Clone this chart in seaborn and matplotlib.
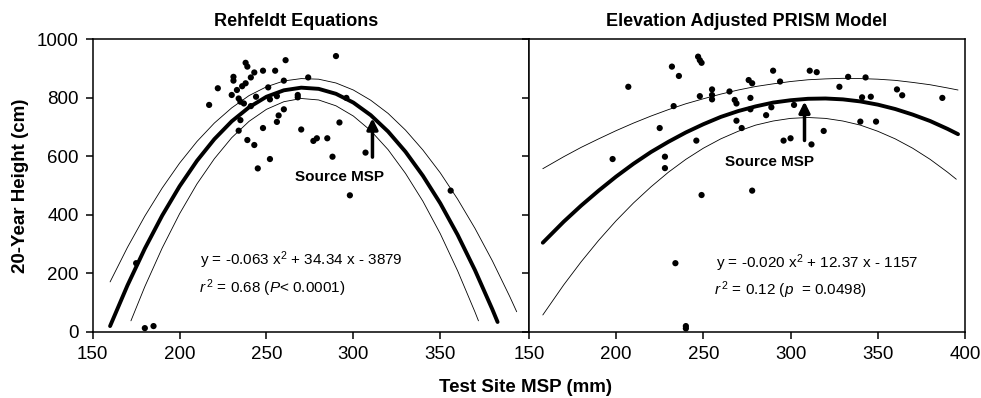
import numpy as np
import pandas as pd
import matplotlib
matplotlib.use('Agg')
import matplotlib.pyplot as plt
import seaborn as sns

# scatter points (MSP in mm, height in cm)
rehf_msp = [217, 222, 230, 231, 231, 233, 234, 235, 235, 234, 236, 238, 237, 238, 239, 239,
            241, 241, 243, 243, 244, 245, 248, 248, 251, 252, 252, 255, 256, 256, 257, 260,
            260, 261, 268, 268, 270, 274, 277, 279, 285, 288, 290, 292, 296, 298, 307, 356,
            175, 180, 185]
rehf_height = [776, 833, 810, 872, 859, 827, 798, 787, 724, 688, 840, 850, 781, 920, 907, 656,
               870, 772, 887, 639, 804, 559, 893, 697, 836, 795, 591, 893, 806, 718, 740, 761,
               859, 929, 802, 810, 692, 870, 653, 662, 662, 599, 943, 716, 800, 467, 613, 483,
               235, 13, 20]

prism_msp = [198, 207, 225, 228, 228, 232, 233, 234, 236, 240, 240, 246, 247, 248, 249, 248,
             249, 255, 255, 255, 265, 268, 269, 269, 272, 276, 278, 277, 277, 278, 286, 289,
             290, 294, 296, 300, 302, 311, 315, 312, 319, 328, 333, 340, 349, 341, 346, 343,
             361, 364, 387]
prism_height = [591, 838, 697, 599, 560, 907, 772, 235, 875, 20, 12, 654, 941, 929, 920, 806,
                468, 829, 810, 795, 822, 793, 781, 722, 697, 861, 850, 800, 761, 483, 741, 768,
                893, 856, 654, 662, 776, 893, 888, 641, 687, 838, 872, 719, 719, 802, 804, 870,
                829, 809, 800]

# fitted curves and 95% bands
rehf_fit_x = [160, 170, 180, 190, 200, 210, 220, 230, 240, 250, 260, 270, 280, 290, 300, 310,
              320, 330, 340, 350, 360, 370, 380, 383]
rehf_fit_y = [20, 159, 285, 398, 498, 585, 659, 720, 768, 804, 826, 835, 831, 814, 784, 741,
              685, 616, 534, 440, 332, 211, 77, 34]
rehf_up_x = [160, 170, 180, 190, 200, 210, 220, 230, 240, 250, 260, 270, 280, 290, 300, 310,
             320, 330, 340, 350, 360, 370, 380, 390, 394]
rehf_up_y = [171, 289, 396, 492, 577, 651, 714, 766, 808, 838, 858, 866, 864, 851, 827, 792,
             747, 690, 622, 544, 454, 354, 243, 121, 69]
rehf_lo_x = [172, 180, 190, 200, 210, 220, 230, 240, 250, 260, 270, 280, 290, 300, 310, 320,
             330, 340, 350, 360, 370, 372]
rehf_lo_y = [38, 155, 287, 404, 506, 592, 664, 720, 761, 787, 798, 793, 773, 738, 688, 623,
             542, 447, 336, 209, 68, 38]

prism_fit_x = [158, 170, 180, 190, 200, 210, 220, 230, 240, 250, 260, 270, 280, 290, 300, 310,
               320, 330, 340, 350, 360, 370, 380, 390, 396]
prism_fit_y = [305, 377, 432, 483, 531, 575, 615, 650, 682, 710, 735, 755, 771, 784, 792, 797,
               798, 795, 788, 777, 762, 743, 721, 694, 676]
prism_up_y = [558, 599, 631, 660, 688, 714, 738, 760, 780, 797, 813, 827, 839, 848, 856, 862,
              865, 867, 866, 864, 860, 853, 845, 834, 827]
prism_lo_x = [158, 170, 180, 190, 200, 210, 220, 230, 240, 250, 260, 270, 280, 290, 300, 310,
              320, 330, 340, 350, 360, 370, 380, 390, 395]
prism_lo_y = [58, 161, 240, 313, 380, 441, 496, 546, 590, 628, 660, 686, 707, 721, 730, 733,
              730, 721, 707, 686, 660, 628, 590, 546, 522]

panel_titles = ['Rehfeldt Equations', 'Elevation Adjusted PRISM Model']
eq_text = [r'y = -0.063 x$^2$ + 34.34 x - 3879', r'y = -0.020 x$^2$ + 12.37 x - 1157']
r2_text = [r'$\it{r}^{\,2}$ = 0.68 ($\it{P}$< 0.0001)', r'$\it{r}^{\,2}$ = 0.12 ($\it{p}$  = 0.0498)']

sns.set_theme(style='ticks')
plt.rcParams['font.family'] = ['Liberation Sans', 'DejaVu Sans']
plt.rcParams['mathtext.fontset'] = 'custom'
plt.rcParams['mathtext.rm'] = 'Liberation Sans'
plt.rcParams['mathtext.it'] = 'Liberation Sans:italic'
plt.rcParams['text.color'] = 'black'
plt.rcParams['axes.labelcolor'] = 'black'
plt.rcParams['axes.titlecolor'] = 'black'
plt.rcParams['axes.linewidth'] = 1.1
plt.rcParams['xtick.major.width'] = 1.1
plt.rcParams['ytick.major.width'] = 1.1
plt.rcParams['xtick.major.size'] = 5
plt.rcParams['ytick.major.size'] = 5

fig, (ax1, ax2) = plt.subplots(1, 2, sharey=True, figsize=(9.81, 3.98), dpi=100)
fig.subplots_adjust(left=0.0945, right=0.9837, bottom=0.166, top=0.901, wspace=0)

panels = [
    (ax1, rehf_msp, rehf_height, rehf_fit_x, rehf_fit_y, rehf_up_x, rehf_up_y, rehf_lo_x, rehf_lo_y),
    (ax2, prism_msp, prism_height, prism_fit_x, prism_fit_y, prism_fit_x, prism_up_y, prism_lo_x, prism_lo_y),
]
for ax, sx, sy, fx, fy, ux, uy, lx, ly in panels:
    sns.lineplot(x=ux, y=uy, ax=ax, color='black', lw=0.6)
    sns.lineplot(x=lx, y=ly, ax=ax, color='black', lw=0.6)
    sns.lineplot(x=fx, y=fy, ax=ax, color='black', lw=2.8)
    sns.scatterplot(x=sx, y=sy, ax=ax, color='black', s=20, edgecolor='none', clip_on=False, zorder=3)
    for side in ['top', 'right', 'left', 'bottom']:
        ax.spines[side].set_visible(True)
        ax.spines[side].set_color('black')

ax1.set_xlim(150, 401)
ax1.set_xticks([150, 200, 250, 300, 350])
ax2.set_xlim(150, 400)
ax2.set_xticks([150, 200, 250, 300, 350, 400])
ax1.set_ylim(0, 1000)
ax1.set_yticks([0, 200, 400, 600, 800, 1000])

for ax in (ax1, ax2):
    ax.tick_params(axis='both', direction='out', labelsize=13.5, colors='black', pad=5)
ax2.tick_params(axis='y', left=True, labelleft=False)

ax1.set_title(panel_titles[0], fontsize=13, fontweight='bold', x=0.466, pad=10)
ax2.set_title(panel_titles[1], fontsize=13, fontweight='bold', pad=10)
ax1.set_ylabel('20-Year Height (cm)', fontsize=13.5, fontweight='bold', labelpad=6)
ax2.set_ylabel('')
fig.text(0.536, 0.027, 'Test Site MSP (mm)', fontsize=13.5, fontweight='bold', ha='center', va='center')

# source MSP arrows
ax1.annotate('', xy=(311, 740), xytext=(311, 588),
             arrowprops=dict(arrowstyle='-|>', lw=2.5, color='black', mutation_scale=16))
ax1.text(292, 531, 'Source MSP', ha='center', va='center', fontsize=11, fontweight='bold')
ax2.annotate('', xy=(308, 797), xytext=(308, 645),
             arrowprops=dict(arrowstyle='-|>', lw=2.5, color='black', mutation_scale=16))
ax2.text(288, 582, 'Source MSP', ha='center', va='center', fontsize=11, fontweight='bold')

ax1.text(212, 246, eq_text[0], ha='left', va='center', fontsize=11)
ax1.text(211, 149, r2_text[0], ha='left', va='center', fontsize=11)
ax2.text(257, 235, eq_text[1], ha='left', va='center', fontsize=11)
ax2.text(256, 143, r2_text[1], ha='left', va='center', fontsize=11)

plt.savefig('out.png', dpi=100)
